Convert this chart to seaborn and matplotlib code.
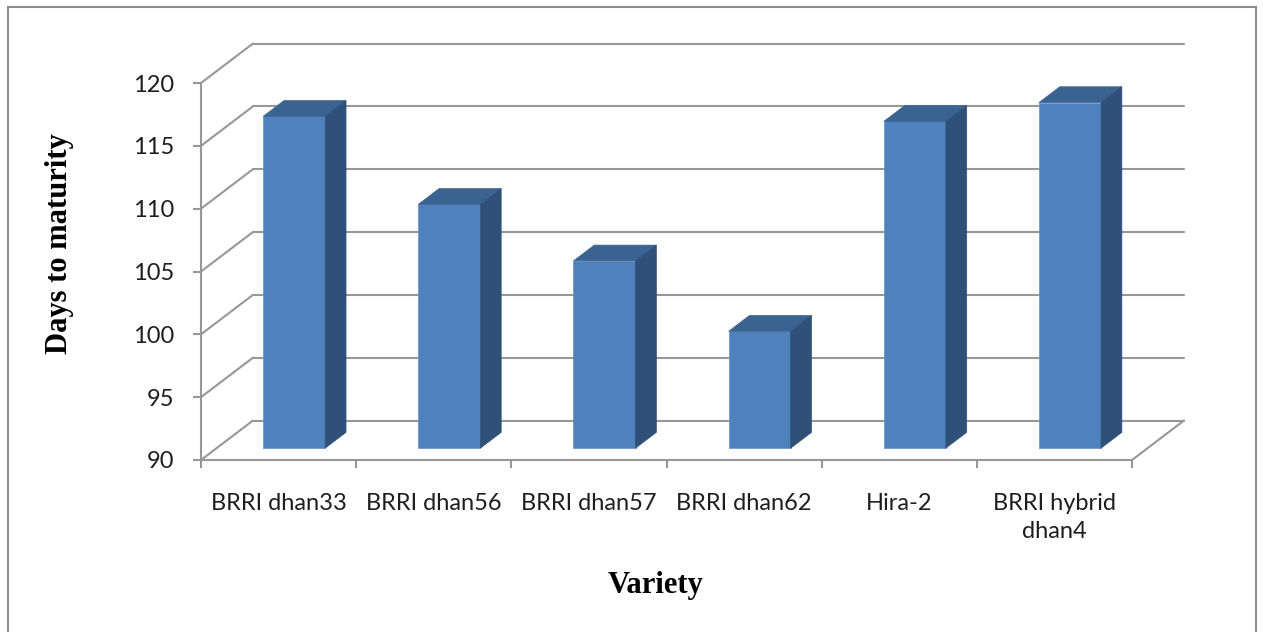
import matplotlib
matplotlib.use("Agg")
import matplotlib.pyplot as plt
from matplotlib.patches import Polygon, Rectangle
import numpy as np
import pandas as pd
import seaborn as sns

# ---- data -------------------------------------------------------------
varieties = ["BRRI dhan33", "BRRI dhan56", "BRRI dhan57", "BRRI dhan62",
             "Hira-2", "BRRI hybrid\ndhan4"]
days = [116.4, 109.4, 104.9, 99.3, 116.0, 117.5]
y_ticks = [90, 95, 100, 105, 110, 115, 120]
y_title = "Days to maturity"
x_title = "Variety"

# ---- style ------------------------------------------------------------
FRONT = "#4F81BD"
TOP = "#3B6392"
SIDE = "#2F5078"
GRID = "#979797"
DEPTH_PX = np.array([52.0, 39.5])   # oblique depth of the chart box, pixels
BAR_FRONT, BAR_BACK = 0.3, 0.7      # bar slab position within the depth

sns.set_theme(style="white")
plt.rcParams["font.family"] = ["Lato", "DejaVu Sans"]

W, H = 1263, 632
fig = plt.figure(figsize=(W / 100, H / 100), dpi=100)
ax = fig.add_axes([201 / W, 1 - 460 / H, 931 / W, 377 / H])

df = pd.DataFrame({"variety": varieties, "days": days})
sns.barplot(data=df, x="variety", y="days", width=0.4, color=FRONT,
            saturation=1, ax=ax, edgecolor="#6F98CB", linewidth=0.6,
            zorder=3)
ax.set_xlim(-0.5, len(varieties) - 0.5)
ax.set_ylim(y_ticks[0], y_ticks[-1])
ax.set_yticks(y_ticks)

# depth vector expressed in data units
inv = ax.transData.inverted()
origin = ax.transData.transform((0, y_ticks[0]))
ddx, ddy = inv.transform(origin + DEPTH_PX) - np.array([0, y_ticks[0]])
x_lo, x_hi = ax.get_xlim()
base = y_ticks[0]

# back wall, side wall and floor
for t in y_ticks:
    ax.plot([x_lo + ddx, x_hi + ddx], [t + ddy, t + ddy], color=GRID,
            lw=1.5, clip_on=False, zorder=0.5)
    ax.plot([x_lo, x_lo + ddx], [t, t + ddy], color=GRID, lw=1.5,
            clip_on=False, zorder=0.5)
ax.plot([x_hi, x_hi + ddx], [base, base + ddy], color=GRID, lw=1.5,
        clip_on=False, zorder=0.5)

# turn the flat bars into boxes
f, b = BAR_FRONT, BAR_BACK - BAR_FRONT
for bar in list(ax.patches):
    v = bar.get_height()
    x0 = bar.get_x() + f * ddx
    x1 = x0 + bar.get_width()
    y0 = base + f * ddy
    y1 = v + f * ddy
    bar.set_x(x0)
    bar.set_y(y0)
    bar.set_height(v - base)
    bar.set_clip_on(False)
    top = Polygon([(x0, y1), (x1, y1), (x1 + b * ddx, y1 + b * ddy),
                   (x0 + b * ddx, y1 + b * ddy)], closed=True,
                  facecolor=TOP, edgecolor=TOP, lw=0.5, clip_on=False,
                  zorder=3)
    side = Polygon([(x1, y0), (x1, y1), (x1 + b * ddx, y1 + b * ddy),
                    (x1 + b * ddx, y0 + b * ddy)], closed=True,
                   facecolor=SIDE, edgecolor=SIDE, lw=0.5, clip_on=False,
                   zorder=3)
    ax.add_patch(top)
    ax.add_patch(side)

# front axes
for s in ("top", "right"):
    ax.spines[s].set_visible(False)
for s in ("left", "bottom"):
    ax.spines[s].set_color(GRID)
    ax.spines[s].set_linewidth(1.5)
    ax.spines[s].set_zorder(4)

ax.set_xticks(np.arange(x_lo, x_hi + 0.01, 1.0), minor=True)
ax.tick_params(axis="x", which="minor", bottom=True, length=6, width=1.5,
               color=GRID, direction="out")
ax.tick_params(axis="x", which="major", bottom=True, length=0, pad=24,
               labelsize=17, labelcolor="#1e1e1e")
ax.tick_params(axis="y", which="major", left=True, length=6, width=1.5,
               color=GRID, direction="out", pad=13, labelsize=17,
               labelcolor="#1e1e1e")
for lab in ax.get_xticklabels():
    lab.set_linespacing(1.4)

ax.set_xlabel(x_title, fontsize=22, fontweight="bold",
              family="Liberation Serif", color="black")
ax.set_ylabel(y_title, fontsize=22, fontweight="bold",
              family="Liberation Serif", color="black")
ax.xaxis.set_label_coords((656 - 201) / 931, (460 - 585) / 377)
ax.xaxis.label.set_verticalalignment("center")
ax.yaxis.set_label_coords((59 - 201) / 931, (460 - 244) / 377)
ax.yaxis.label.set_verticalalignment("center")

# chart frame
fig.add_artist(Rectangle((8 / W, -0.05), (1256 - 8) / W, 1 - 7 / H + 0.05,
                         transform=fig.transFigure, fill=False,
                         edgecolor="#8C8C8C", lw=1.5))

fig.savefig("out.png", dpi=100)
